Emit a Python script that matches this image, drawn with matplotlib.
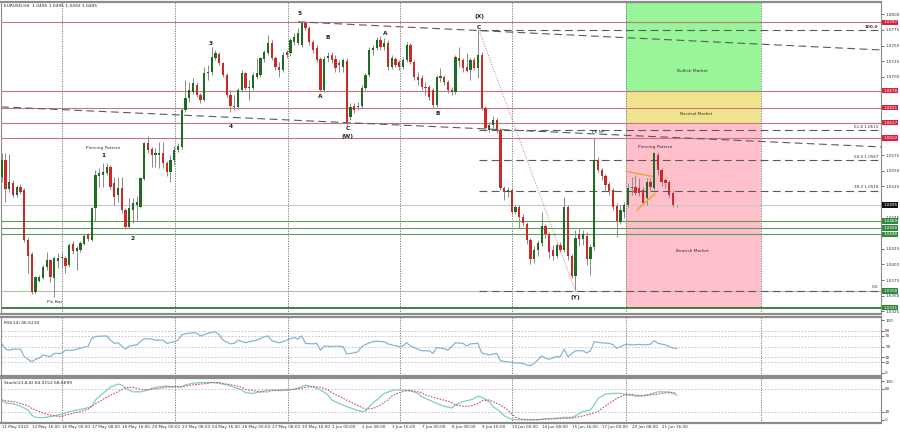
import matplotlib
matplotlib.use('Agg')
import matplotlib.pyplot as plt
import numpy as np
from matplotlib.ticker import FormatStrFormatter

TITLE = 'EURUSD,H4  1.0495 1.0495 1.0492 1.0495'

opens = [1.0540, 1.0567, 1.0521, 1.0530, 1.0511, 1.0524, 1.0519, 1.0439, 1.0417, 1.0356,
         1.0373, 1.0378, 1.0396, 1.0407, 1.0378, 1.0405, 1.0410, 1.0410, 1.0399, 1.0433,
         1.0421, 1.0423, 1.0433, 1.0449, 1.0439, 1.0490, 1.0541, 1.0543, 1.0546, 1.0556,
         1.0530, 1.0511, 1.0522, 1.0487, 1.0460, 1.0487, 1.0495, 1.0492, 1.0537, 1.0594,
         1.0585, 1.0575, 1.0575, 1.0578, 1.0562, 1.0548, 1.0567, 1.0583, 1.0588, 1.0647,
         1.0666, 1.0676, 1.0687, 1.0671, 1.0663, 1.0706, 1.0708, 1.0730, 1.0737, 1.0722,
         1.0703, 1.0671, 1.0653, 1.0652, 1.0679, 1.0706, 1.0682, 1.0682, 1.0700, 1.0703,
         1.0729, 1.0738, 1.0754, 1.0730, 1.0716, 1.0711, 1.0740, 1.0738, 1.0756, 1.0754,
         1.0751, 1.0786, 1.0778, 1.0756, 1.0746, 1.0729, 1.0679, 1.0730, 1.0735, 1.0729,
         1.0722, 1.0716, 1.0725, 1.0636, 1.0653, 1.0652, 1.0653, 1.0682, 1.0703, 1.0743,
         1.0746, 1.0759, 1.0748, 1.0754, 1.0716, 1.0729, 1.0724, 1.0716, 1.0727, 1.0751,
         1.0724, 1.0700, 1.0698, 1.0684, 1.0684, 1.0679, 1.0655, 1.0698, 1.0700, 1.0692,
         1.0679, 1.0676, 1.0730, 1.0727, 1.0716, 1.0711, 1.0727, 1.0714, 1.0735, 1.0650,
         1.0615, 1.0623, 1.0631, 1.0615, 1.0522, 1.0516, 1.0519, 1.0484, 1.0492, 1.0476,
         1.0465, 1.0439, 1.0409, 1.0423, 1.0434, 1.0461, 1.0449, 1.0423, 1.0413, 1.0431,
         1.0423, 1.0492, 1.0413, 1.0381, 1.0449, 1.0441, 1.0445, 1.0409, 1.0428, 1.0567,
         1.0551, 1.0541, 1.0529, 1.0519, 1.0493, 1.0468, 1.0484, 1.0495, 1.0522, 1.0524,
         1.0522, 1.0519, 1.0506, 1.0532, 1.0522, 1.0575, 1.0551, 1.0535, 1.0532, 1.0514,
         1.0495]
highs = [1.0578, 1.0578, 1.0577, 1.0535, 1.0527, 1.0529, 1.0522, 1.0444, 1.0420, 1.0381,
         1.0383, 1.0399, 1.0420, 1.0409, 1.0413, 1.0418, 1.0420, 1.0414, 1.0434, 1.0437,
         1.0429, 1.0437, 1.0449, 1.0451, 1.0492, 1.0551, 1.0554, 1.0562, 1.0562, 1.0559,
         1.0540, 1.0540, 1.0540, 1.0490, 1.0506, 1.0506, 1.0509, 1.0540, 1.0596, 1.0605,
         1.0588, 1.0586, 1.0596, 1.0596, 1.0565, 1.0575, 1.0589, 1.0594, 1.0650, 1.0695,
         1.0692, 1.0698, 1.0692, 1.0674, 1.0716, 1.0719, 1.0748, 1.0743, 1.0740, 1.0724,
         1.0706, 1.0679, 1.0671, 1.0682, 1.0711, 1.0708, 1.0695, 1.0708, 1.0730, 1.0732,
         1.0743, 1.0767, 1.0759, 1.0733, 1.0724, 1.0740, 1.0743, 1.0762, 1.0770, 1.0778,
         1.0789, 1.0789, 1.0781, 1.0759, 1.0751, 1.0732, 1.0733, 1.0740, 1.0740, 1.0735,
         1.0727, 1.0730, 1.0730, 1.0658, 1.0658, 1.0660, 1.0687, 1.0706, 1.0748, 1.0751,
         1.0764, 1.0765, 1.0762, 1.0759, 1.0735, 1.0732, 1.0727, 1.0732, 1.0756, 1.0754,
         1.0727, 1.0708, 1.0703, 1.0692, 1.0687, 1.0682, 1.0703, 1.0714, 1.0703, 1.0695,
         1.0684, 1.0735, 1.0748, 1.0730, 1.0738, 1.0730, 1.0732, 1.0775, 1.0740, 1.0653,
         1.0628, 1.0637, 1.0634, 1.0618, 1.0525, 1.0524, 1.0522, 1.0495, 1.0495, 1.0481,
         1.0468, 1.0442, 1.0429, 1.0439, 1.0484, 1.0465, 1.0452, 1.0431, 1.0434, 1.0436,
         1.0508, 1.0495, 1.0417, 1.0455, 1.0458, 1.0455, 1.0452, 1.0433, 1.0602, 1.0572,
         1.0554, 1.0545, 1.0532, 1.0522, 1.0498, 1.0495, 1.0500, 1.0530, 1.0540, 1.0543,
         1.0538, 1.0524, 1.0538, 1.0538, 1.0580, 1.0580, 1.0554, 1.0538, 1.0535, 1.0519,
         1.0495]
lows = [1.0532, 1.0500, 1.0516, 1.0508, 1.0508, 1.0513, 1.0436, 1.0386, 1.0353, 1.0353,
        1.0372, 1.0376, 1.0391, 1.0372, 1.0348, 1.0394, 1.0394, 1.0386, 1.0396, 1.0416,
        1.0391, 1.0420, 1.0431, 1.0437, 1.0437, 1.0469, 1.0524, 1.0524, 1.0543, 1.0520,
        1.0495, 1.0500, 1.0482, 1.0457, 1.0458, 1.0466, 1.0471, 1.0490, 1.0535, 1.0578,
        1.0556, 1.0556, 1.0554, 1.0554, 1.0541, 1.0532, 1.0559, 1.0580, 1.0585, 1.0644,
        1.0660, 1.0673, 1.0668, 1.0658, 1.0661, 1.0695, 1.0703, 1.0727, 1.0719, 1.0700,
        1.0668, 1.0644, 1.0647, 1.0649, 1.0676, 1.0679, 1.0663, 1.0679, 1.0697, 1.0700,
        1.0724, 1.0735, 1.0727, 1.0711, 1.0700, 1.0708, 1.0730, 1.0733, 1.0751, 1.0751,
        1.0748, 1.0775, 1.0751, 1.0738, 1.0724, 1.0676, 1.0676, 1.0724, 1.0722, 1.0708,
        1.0708, 1.0708, 1.0623, 1.0631, 1.0642, 1.0647, 1.0650, 1.0679, 1.0700, 1.0735,
        1.0743, 1.0743, 1.0743, 1.0711, 1.0713, 1.0716, 1.0711, 1.0713, 1.0724, 1.0721,
        1.0695, 1.0687, 1.0679, 1.0671, 1.0663, 1.0650, 1.0652, 1.0692, 1.0687, 1.0674,
        1.0671, 1.0673, 1.0716, 1.0708, 1.0708, 1.0695, 1.0711, 1.0698, 1.0647, 1.0613,
        1.0612, 1.0618, 1.0610, 1.0519, 1.0503, 1.0508, 1.0479, 1.0481, 1.0458, 1.0461,
        1.0433, 1.0401, 1.0402, 1.0413, 1.0429, 1.0442, 1.0410, 1.0407, 1.0410, 1.0420,
        1.0420, 1.0407, 1.0378, 1.0359, 1.0429, 1.0431, 1.0399, 1.0383, 1.0423, 1.0548,
        1.0535, 1.0519, 1.0511, 1.0487, 1.0444, 1.0465, 1.0474, 1.0492, 1.0511, 1.0511,
        1.0509, 1.0495, 1.0495, 1.0519, 1.0519, 1.0543, 1.0525, 1.0522, 1.0506, 1.0492,
        1.0492]
closes = [1.0567, 1.0521, 1.0532, 1.0511, 1.0524, 1.0516, 1.0439, 1.0413, 1.0356, 1.0380,
          1.0380, 1.0396, 1.0407, 1.0380, 1.0410, 1.0410, 1.0412, 1.0397, 1.0431, 1.0421,
          1.0426, 1.0434, 1.0445, 1.0441, 1.0490, 1.0543, 1.0546, 1.0548, 1.0556, 1.0524,
          1.0508, 1.0522, 1.0487, 1.0460, 1.0490, 1.0498, 1.0500, 1.0538, 1.0594, 1.0583,
          1.0575, 1.0578, 1.0578, 1.0562, 1.0548, 1.0567, 1.0583, 1.0589, 1.0647, 1.0666,
          1.0679, 1.0690, 1.0671, 1.0663, 1.0706, 1.0708, 1.0732, 1.0738, 1.0722, 1.0703,
          1.0671, 1.0653, 1.0652, 1.0679, 1.0706, 1.0682, 1.0684, 1.0703, 1.0706, 1.0730,
          1.0740, 1.0754, 1.0730, 1.0716, 1.0711, 1.0735, 1.0735, 1.0759, 1.0764, 1.0770,
          1.0786, 1.0778, 1.0756, 1.0743, 1.0727, 1.0679, 1.0729, 1.0733, 1.0727, 1.0714,
          1.0719, 1.0727, 1.0628, 1.0652, 1.0647, 1.0653, 1.0682, 1.0703, 1.0743, 1.0746,
          1.0759, 1.0748, 1.0754, 1.0716, 1.0730, 1.0719, 1.0716, 1.0727, 1.0751, 1.0724,
          1.0700, 1.0695, 1.0684, 1.0682, 1.0668, 1.0655, 1.0700, 1.0701, 1.0692, 1.0679,
          1.0676, 1.0732, 1.0725, 1.0714, 1.0709, 1.0727, 1.0714, 1.0735, 1.0650, 1.0618,
          1.0623, 1.0631, 1.0615, 1.0522, 1.0516, 1.0519, 1.0484, 1.0492, 1.0476, 1.0466,
          1.0439, 1.0409, 1.0423, 1.0434, 1.0461, 1.0449, 1.0420, 1.0413, 1.0431, 1.0423,
          1.0492, 1.0413, 1.0381, 1.0442, 1.0441, 1.0449, 1.0409, 1.0428, 1.0567, 1.0551,
          1.0541, 1.0527, 1.0517, 1.0492, 1.0469, 1.0487, 1.0495, 1.0522, 1.0524, 1.0514,
          1.0514, 1.0498, 1.0532, 1.0524, 1.0578, 1.0551, 1.0532, 1.0530, 1.0511, 1.0495,
          1.0495]

rsi_bars = [0, 1, 2, 3, 5, 6, 8, 9, 10, 11, 13, 14, 16, 17, 19, 21, 23, 24, 25, 28,
            29, 30, 31, 33, 34, 36, 38, 40, 41, 43, 44, 46, 47, 48, 49, 51, 52, 53, 55, 57,
            58, 59, 61, 62, 63, 65, 66, 68, 70, 71, 72, 74, 75, 77, 78, 79, 80, 81, 83, 84,
            85, 86, 88, 89, 91, 92, 94, 95, 96, 98, 99, 100, 102, 103, 104, 106, 107, 108, 109, 111,
            112, 114, 115, 116, 118, 119, 121, 123, 124, 125, 127, 128, 130, 132, 133, 135, 136, 137, 139, 140,
            141, 142, 144, 145, 146, 148, 149, 150, 151, 153, 155, 156, 157, 158, 160, 162, 163, 164, 166, 167,
            168, 170, 171, 173, 174, 175, 177, 178, 179, 180]
rsi_vals = [56, 45, 43, 45, 45, 31, 21, 26, 28, 34, 31, 37, 37, 43, 43, 47, 50, 65, 69, 70,
            62, 56, 57, 45, 51, 53, 65, 64, 62, 62, 56, 59, 62, 72, 74, 76, 75, 70, 75, 78,
            72, 62, 55, 56, 62, 57, 59, 62, 68, 70, 61, 57, 59, 65, 67, 64, 70, 56, 55, 56,
            43, 51, 50, 51, 50, 36, 38, 40, 50, 57, 59, 60, 59, 55, 53, 50, 51, 57, 51, 45,
            42, 42, 37, 48, 46, 43, 57, 56, 51, 55, 56, 38, 34, 37, 23, 21, 20, 19.5, 18, 15,
            14, 18, 32, 28, 26, 31, 31, 45, 31, 42, 42, 38, 42, 59, 57, 56, 53.5, 46.5, 53, 54,
            53, 54, 53, 54, 61, 56, 53, 50, 47, 46.5]

stoch_bars = [0, 1, 3, 5, 7, 8, 9, 11, 13, 15, 16, 18, 20, 22, 24, 25, 27, 29, 31, 32,
              33, 35, 37, 39, 40, 42, 44, 46, 48, 49, 51, 53, 55, 56, 58, 60, 62, 64, 65, 67,
              69, 71, 72, 74, 76, 78, 80, 81, 83, 85, 87, 88, 90, 92, 94, 96, 97, 98, 100, 102,
              104, 105, 107, 109, 111, 112, 114, 116, 118, 120, 121, 123, 125, 126, 127, 128, 130, 131, 133, 134,
              136, 137, 139, 141, 143, 144, 146, 148, 150, 152, 153, 155, 157, 158, 159, 161, 163, 165, 166, 168,
              169, 171, 173, 175, 176, 178, 180]
stoch_main = [49, 44, 41, 35, 25, 12, 6, 5, 8, 12, 14, 21, 25, 28.5, 34, 51, 68, 84, 92, 90,
              81, 72, 72, 77, 81, 85, 87, 85, 85, 90, 94, 96, 96, 96, 94, 90, 84, 77, 70, 68,
              72, 77, 77, 75, 77, 78.5, 85, 89, 85, 77, 64, 51, 42, 34, 27, 21, 22.5, 34, 51, 68,
              75, 77, 77, 75, 68, 59.5, 51, 42, 35, 30, 38, 47, 51, 55, 61, 58, 47, 34, 21, 10,
              1, 0, 0, 0, 0, 1, 3, 3.5, 6, 6, 10, 21, 25, 38, 55, 66, 68, 68, 66, 63,
              61, 61, 66, 72, 72, 72, 64]
sig_bars = [0, 1, 3, 5, 7, 8, 10, 12, 14, 16, 17, 19, 21, 23, 24, 26, 28, 30, 32, 33,
            35, 37, 39, 40, 42, 44, 46, 48, 49, 51, 53, 55, 56, 58, 60, 62, 64, 65, 67, 69,
            71, 72, 74, 76, 78, 80, 81, 83, 85, 87, 88, 90, 92, 94, 96, 97, 99, 101, 103, 104,
            106, 108, 110, 112, 113, 115, 117, 120, 121, 123, 125, 127, 128, 130, 131, 133, 135, 136, 137, 139,
            141, 143, 144, 146, 148, 150, 152, 153, 155, 157, 159, 160, 162, 164, 166, 168, 169, 171, 173, 175,
            176, 178, 180]
sig_vals = [51, 49, 47, 42, 36, 29, 21, 14, 10, 8, 12, 16.5, 21, 27, 35, 47, 58, 68, 77, 83,
            84, 78.5, 77, 78.5, 81, 84, 85, 85, 87, 90, 92, 94, 96.5, 96, 92, 89, 84, 78.5, 75, 72,
            71.6, 75, 77, 77, 78.5, 81, 84, 85, 84, 77, 70, 61, 51, 41, 32, 27, 29, 38, 51, 61,
            70, 75, 74, 70, 64, 58, 53, 45, 38, 35, 35, 42, 49, 51, 47, 38, 25, 15, 6, 1,
            0, 0, 1, 2, 2.7, 3.5, 3.5, 6, 9.6, 14.7, 20.7, 29, 42, 55, 64, 66, 63, 63, 64, 66,
            68, 70, 69]

time_bars = [0, 8, 16, 24, 32, 40, 48, 56, 64, 72, 80, 88, 96, 104, 112, 120, 128, 136, 144, 152, 160, 168, 176]
time_labels = ['11 May 2022', '12 May 16:00', '16 May 00:00', '17 May 08:00', '18 May 16:00', '20 May 00:00',
               '23 May 08:00', '24 May 16:00', '26 May 00:00', '27 May 08:00', '30 May 16:00', '1 Jun 00:00',
               '2 Jun 08:00', '3 Jun 16:00', '7 Jun 00:00', '8 Jun 08:00', '9 Jun 16:00', '13 Jun 00:00',
               '14 Jun 08:00', '15 Jun 16:00', '17 Jun 00:00', '20 Jun 08:00', '21 Jun 16:00']
week_seps = [16.1, 46.2, 76.3, 106.2, 136.1, 166.5, 202.5]

res_levels = [1.0787, 1.0678, 1.0651, 1.0627, 1.0602]
sup_levels = [1.0469, 1.0458, 1.0448, 1.0358, 1.0331]
last_price = 1.0495
fib_prices = [1.0775, 1.0615, 1.0567, 1.0518, 1.0358]
fib_texts = ['100.0', '61.8 1.0615', '50.0 1.0567', '38.2 1.0518', '0.0']
fib_start = 127.3

trend_a = ([79.0, 234.5], [1.0788, 1.0743])
trend_b = ([-0.2, 234.5], [1.0652, 1.0588])
xy_line = ([127.3, 152.9], [1.0775, 1.0359])
tri_upper = ([166.5, 173.4], [1.0549, 1.0541])
tri_lower = ([169.4, 174.2], [1.0487, 1.0513])

zone_x = (166.5, 202.5)
zone_bull = (1.0678, 1.0830)
zone_neutral = (1.0627, 1.0678)
zone_bear = (1.0331, 1.0627)

wave_labels = [('5', 79.5, 1.0802), ('3', 55.8, 1.0754), ('4', 61.1, 1.0620), ('1', 27.0, 1.0575),
               ('2', 35.0, 1.0442), ('B', 87.0, 1.0763), ('A', 85.0, 1.0668), ('A', 102.2, 1.0770),
               ('C', 92.2, 1.0617), ('(W)', 92.2, 1.0604), ('B', 116.2, 1.0642), ('(X)', 127.3, 1.0796),
               ('C', 127.3, 1.0779), ('(Y)', 153.1, 1.0347)]
notes = [('Piercing Pattern', 27.0, 1.0587), ('Pin Bar', 14.0, 1.0340), ('PE NP', 159.1, 1.0612),
         ('Piercing Pattern', 174.2, 1.0588), ('Bullish Market', 184.3, 1.0709),
         ('Neutral Market', 185.3, 1.0640), ('Bearish Market', 184.3, 1.0422)]

XLIM = (-0.2, 234.5)
FS = 3.2      # general text
FS_AX = 3.0   # right axis / price tags


def style_panel(ax):
    ax.set_xlim(*XLIM)
    ax.set_facecolor('white')
    for s in ax.spines.values():
        s.set_color('#8c8c8c')
        s.set_linewidth(0.8)
    ax.spines['top'].set_linewidth(1.6)
    ax.spines['bottom'].set_linewidth(1.6)
    ax.yaxis.tick_right()
    ax.tick_params(axis='y', labelsize=FS_AX, length=2, pad=1.0, colors='#333333', width=0.5)
    ax.tick_params(axis='x', length=0)
    for xs in week_seps:
        ax.axvline(xs, color='#6e6e6e', lw=0.6, ls=(0, (1.5, 1.5)), zorder=2)


def tag(ax, price, text, color):
    ax.text(1.0025, price, text, transform=ax.get_yaxis_transform(), ha='left', va='center',
            fontsize=FS_AX, color='white', clip_on=False, zorder=6,
            bbox=dict(boxstyle='square,pad=0.2', fc=color, ec='none'))


def draw_main(ax):
    style_panel(ax)
    ax.set_ylim(1.03208, 1.08205)
    # price scale every 25 pips, hiding the ones covered by the coloured price tags
    tagged = res_levels + sup_levels + [last_price]
    ticks = [t for t in np.arange(1.0325, 1.08001, 0.0025)
             if min(abs(t - p) for p in tagged) > 0.0005]
    ax.set_yticks(ticks)
    ax.yaxis.set_major_formatter(FormatStrFormatter('%.4f'))
    ax.set_xticks([])

    x0, x1 = zone_x
    ax.fill_between([x0, x1], *zone_bull, color='#98f598', lw=0, zorder=0.5)
    ax.fill_between([x0, x1], *zone_neutral, color='#f0e38e', lw=0, zorder=0.5)
    ax.fill_between([x0, x1], *zone_bear, color='#ffc0cb', lw=0, zorder=0.5)

    for p in res_levels:
        ax.axhline(p, color='#c27683', lw=0.8, zorder=1)
    for p in sup_levels[:3]:
        ax.axhline(p, color='#5f9a5f', lw=0.8, zorder=1)
    ax.axhline(sup_levels[3], color='#a9c9a9', lw=0.8, zorder=1)
    ax.axhline(sup_levels[4], color='#2c7a2c', lw=1.3, zorder=1)
    ax.axhline(last_price, color='#c8c8c8', lw=0.8, zorder=1)

    for p, t in zip(fib_prices, fib_texts):
        ax.plot([fib_start, XLIM[1]], [p, p], color='#5a5a5a', lw=0.8, ls=(0, (7, 4)), zorder=2)
        ax.text(0.997, p + 0.0002, t, transform=ax.get_yaxis_transform(), ha='right', va='bottom',
                fontsize=FS_AX, color='#333333', fontweight='bold' if t == '100.0' else 'normal', zorder=5)
    ax.plot(*trend_a, color='#5a5a5a', lw=0.8, ls=(0, (7, 4)), zorder=2)
    ax.plot(*trend_b, color='#5a5a5a', lw=0.8, ls=(0, (7, 4)), zorder=2)
    ax.plot(*xy_line, color='#d07a7a', lw=0.7, ls=(0, (1, 1.5)), zorder=2)
    ax.plot(*tri_upper, color='#f0a030', lw=1.0, zorder=5)
    ax.plot(*tri_lower, color='#f0a030', lw=1.0, zorder=5)

    o, h, l, c = map(np.array, (opens, highs, lows, closes))
    x = np.arange(len(c))
    up = c >= o
    ax.vlines(x, l, h, color='#8a8a8a', lw=0.7, zorder=3)
    lo = np.minimum(o, c)
    ht = np.maximum(np.abs(c - o), 0.00005)
    ax.bar(x[up], ht[up], bottom=lo[up], width=0.62, color='#1f6b24', lw=0, zorder=4)
    ax.bar(x[~up], ht[~up], bottom=lo[~up], width=0.62, color='#cc2a2a', lw=0, zorder=4)

    for t, bx, p in wave_labels:
        ax.text(bx, p, t, ha='center', va='center', fontsize=4.2, fontweight='bold', color='#222222', zorder=6)
    for t, bx, p in notes:
        ax.text(bx, p, t, ha='center', va='center', fontsize=FS, color='#333333', zorder=6)

    ax.text(0.003, 0.992, TITLE, transform=ax.transAxes, ha='left', va='top', fontsize=FS, color='#222222')

    for p in res_levels:
        tag(ax, p, '%.4f' % p, '#d8203c')
    for p in sup_levels:
        tag(ax, p, '%.4f' % p, '#2f8a3a')
    tag(ax, last_price, '%.4f' % last_price, '#111111')


def draw_rsi(ax):
    style_panel(ax)
    ax.set_ylim(-5.7, 105.7)
    ax.set_yticks([0, 20, 30, 50, 70, 80, 100])
    ax.set_xticks([])
    for lv in (20, 30, 50, 70, 80):
        ax.axhline(lv, color='#bdbdbd', lw=0.6, ls=(0, (2, 2)), zorder=1)
    ax.plot(rsi_bars, rsi_vals, color='#86b6cf', lw=0.9, zorder=3)
    ax.text(0.003, 0.94, 'RSI(14) 46.5210', transform=ax.transAxes, ha='left', va='top', fontsize=FS, color='#222222')


def draw_stoch(ax):
    style_panel(ax)
    ax.set_ylim(-8.5, 106.5)
    ax.set_yticks([0, 20, 80, 100])
    for lv in (20, 80):
        ax.axhline(lv, color='#bdbdbd', lw=0.6, ls=(0, (2, 2)), zorder=1)
    ax.plot(stoch_bars, stoch_main, color='#7fcfc6', lw=0.9, zorder=3)
    ax.plot(sig_bars, sig_vals, color='#cc5555', lw=0.8, ls=(0, (1.5, 1.2)), zorder=3)
    ax.text(0.003, 0.95, 'Stoch(21,8,8) 64.0152 68.6699', transform=ax.transAxes, ha='left', va='top',
            fontsize=FS, color='#222222')
    ax.set_xticks(time_bars)
    ax.set_xticklabels(time_labels, ha='left')
    ax.tick_params(axis='x', labelsize=FS_AX, length=0, pad=1.5, colors='#333333')


if __name__ == '__main__':
    fig = plt.figure(figsize=(9, 4.33), dpi=100)
    fig.patch.set_facecolor('white')
    left, width = 0.0011, 0.9778
    ax1 = fig.add_axes([left, 0.2748, width, 0.7217])
    ax2 = fig.add_axes([left, 0.1316, width, 0.1363])
    ax3 = fig.add_axes([left, 0.0231, width, 0.1028])
    draw_main(ax1)
    draw_rsi(ax2)
    draw_stoch(ax3)
    fig.savefig('out.png', dpi=100)
